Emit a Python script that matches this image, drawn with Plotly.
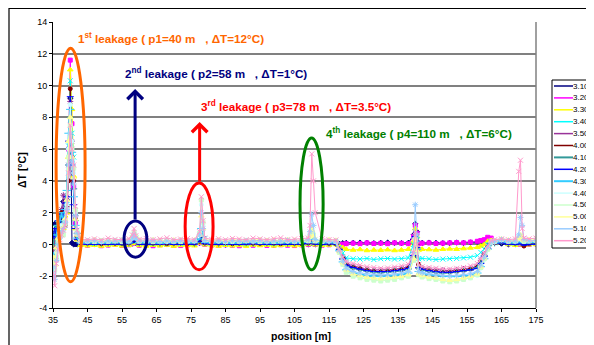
import plotly.graph_objects as go

# ---------------- data ----------------
pos_a = [35, 35.5, 36, 36.5, 37, 37.5, 38, 38.5, 39, 39.5, 40, 40.5, 41, 41.5, 42, 43]
pos_b = [45, 47, 49, 51, 53, 55, 57, 58, 58.5, 59, 60, 62, 64, 66, 68, 70, 72, 74, 76, 77.5,
         78, 78.5, 79, 81, 83, 85, 87, 89, 91, 93, 95, 97, 99, 101, 103, 105, 107, 109, 109.5,
         110, 110.5, 111, 113, 115, 117]
pos_c = [118, 119, 120, 122, 124, 126, 128, 130, 132, 134, 136, 138, 139.5, 140, 140.5, 141,
         142, 144, 146, 148, 150, 152, 154, 156, 158, 159, 160, 161, 162, 163]
pos_d = [165, 167, 169, 170, 170.5, 171, 171.5, 173, 175]
positions = pos_a + pos_b + pos_c + pos_d

series_names = ["3.10 PM", "3.20 PM", "3.30 PM", "3.40 PM", "3.50 PM", "4.00 PM", "4.10 PM",
                "4.20 PM", "4.30 PM", "4.40 PM", "4.50 PM", "5.00 PM", "5.10 PM", "5.20 PM"]

dt_310 = ([0.2, 1.3, 0.8, 1.0, 1.4, 1.2, 2.7, 2.2, 2.8, 4.0, 9.2, 0.1, 0.0, 0.0, 0.0, 0.0] +
          [0.0, 0.02, -0.02, 0.0, 0.03, 0.0, 0.02, 0.05, 0.15, 0.1, 0.0, -0.02, 0.0, 0.03, 0.0, 0.02, -0.03, 0.0, 0.02, 0.1, 0.3, 0.2, 0.05, 0.0, 0.02, -0.02, 0.0, 0.03, 0.05, 0.0, 0.02, 0.0, -0.02, 0.04, 0.0, 0.02, 0.0, 0.0, 0.05, 0.1, 0.05, 0.0, 0.02, 0.0, 0.05] +
          [0.05, 0.08, 0.1, 0.1, 0.12, 0.1, 0.08, 0.1, 0.12, 0.1, 0.08, 0.1, 0.6, 1.3, 0.8, 0.1, 0.1, 0.12, 0.1, 0.08, 0.1, 0.12, 0.1, 0.12, 0.15, 0.2, 0.25, 0.35, 0.3, 0.15] +
          [0.05, 0.0, 0.02, 0.05, 0.1, 0.05, 0.0, 0.02, 0.0])
dt_320 = ([0.5, 0.3, -0.2, 0.6, 1.0, 0.8, 1.9, 1.5, 2.3, 6.0, 11.6, 7.6, 3.6, 1.3, 0.4, 0.0] +
          [-0.05, 0.0, -0.08, -0.04, 0.0, -0.06, -0.02, 0.05, 0.2, 0.1, -0.05, -0.03, -0.08, -0.02, 0.0, -0.05, -0.07, -0.03, 0.0, 0.1, 0.2, 0.15, 0.0, -0.04, -0.06, -0.02, -0.05, -0.08, -0.03, -0.05, 0.0, -0.06, -0.04, -0.02, -0.05, -0.07, -0.03, 0.0, 0.1, 0.3, 0.15, 0.0, -0.05, -0.02, 0.05] +
          [0.0, 0.02, 0.05, 0.08, 0.05, 0.1, 0.06, 0.08, 0.05, 0.1, 0.08, 0.05, 0.5, 1.2, 0.7, 0.05, 0.08, 0.1, 0.06, 0.08, 0.1, 0.12, 0.1, 0.15, 0.2, 0.25, 0.3, 0.45, 0.4, 0.2] +
          [0.2, 0.05, 0.0, 0.02, 0.05, 0.0, -0.03, 0.0, 0.05])
dt_330 = ([0.0, -0.5, 0.2, 0.4, 0.6, 1.2, 1.0, 1.8, 2.0, 5.5, 11.0, 8.5, 4.3, 1.0, 0.3, -0.05] +
          [-0.08, -0.05, -0.1, -0.06, -0.04, -0.09, -0.05, 0.05, 0.25, 0.1, -0.06, -0.1, -0.05, -0.08, -0.04, -0.1, -0.06, -0.05, -0.08, 0.1, 0.3, 0.2, -0.02, -0.07, -0.1, -0.05, -0.08, -0.06, -0.1, -0.04, -0.07, -0.05, -0.09, -0.06, -0.04, -0.08, -0.05, 0.0, 0.1, 0.3, 0.15, -0.02, -0.06, -0.04, 0.0] +
          [-0.1, -0.2, -0.3, -0.35, -0.32, -0.38, -0.35, -0.36, -0.33, -0.38, -0.35, -0.3, 0.2, 1.0, 0.5, -0.35, -0.3, -0.32, -0.35, -0.3, -0.28, -0.3, -0.26, -0.22, -0.18, -0.1, 0.0, 0.2, 0.25, 0.1] +
          [0.15, 0.0, -0.05, 0.05, 0.1, 0.0, -0.05, -0.02, 0.0])
dt_340 = ([-0.8, -1.2, 1.0, 1.3, 0.9, 1.6, 1.8, 1.2, 2.5, 6.2, 10.3, 7.0, 5.5, 2.0, 0.6, 0.1] +
          [0.1, 0.05, 0.12, 0.08, 0.1, 0.06, 0.1, 0.2, 0.4, 0.25, 0.08, 0.12, 0.06, 0.1, 0.08, 0.12, 0.05, 0.1, 0.08, 0.2, 0.4, 0.3, 0.1, 0.08, 0.12, 0.06, 0.1, 0.08, 0.05, 0.1, 0.12, 0.08, 0.06, 0.1, 0.08, 0.12, 0.1, 0.1, 0.2, 0.4, 0.25, 0.1, 0.08, 0.1, 0.1] +
          [-0.2, -0.55, -0.85, -0.9, -0.92, -0.88, -0.95, -0.9, -0.88, -0.92, -0.9, -0.85, 0.0, 0.8, 0.3, -0.9, -0.88, -0.9, -0.95, -0.92, -0.9, -0.88, -0.85, -0.8, -0.7, -0.5, -0.3, 0.0, 0.15, 0.1] +
          [0.2, 0.1, 0.08, 0.15, 0.25, 0.1, 0.08, 0.1, 0.12])
dt_350 = ([-0.5, 0.2, 0.6, 0.8, 1.3, 2.2, 3.1, 2.6, 3.0, 5.0, 9.0, 6.5, 4.0, 1.8, 0.5, 0.15] +
          [0.12, 0.15, 0.1, 0.14, 0.1, 0.16, 0.12, 0.25, 0.5, 0.3, 0.12, 0.1, 0.15, 0.12, 0.1, 0.14, 0.12, 0.15, 0.1, 0.25, 0.5, 0.35, 0.12, 0.15, 0.1, 0.12, 0.14, 0.1, 0.15, 0.12, 0.1, 0.14, 0.12, 0.1, 0.15, 0.12, 0.1, 0.15, 0.3, 0.5, 0.3, 0.12, 0.1, 0.14, 0.1] +
          [-0.3, -0.8, -1.2, -1.35, -1.45, -1.55, -1.6, -1.62, -1.6, -1.55, -1.5, -1.4, -0.5, 0.6, 0.0, -1.45, -1.5, -1.55, -1.6, -1.62, -1.65, -1.6, -1.55, -1.5, -1.35, -1.0, -0.6, -0.2, 0.1, 0.12] +
          [0.2, 0.15, 0.1, 0.2, 0.3, 0.12, 0.1, 0.14, 0.12])
dt_400 = ([-1.5, -0.8, 0.4, 1.0, 1.6, 2.0, 1.5, 1.2, 2.4, 4.0, 9.8, 5.5, 4.0, 1.6, 0.5, 0.1] +
          [0.08, 0.1, 0.05, 0.1, 0.08, 0.06, 0.1, 0.2, 0.45, 0.25, 0.1, 0.06, 0.08, 0.1, 0.05, 0.08, 0.1, 0.06, 0.08, 0.2, 0.6, 0.35, 0.1, 0.06, 0.08, 0.1, 0.05, 0.08, 0.1, 0.08, 0.06, 0.1, 0.08, 0.05, 0.1, 0.08, 0.06, 0.1, 0.25, 0.4, 0.25, 0.1, 0.08, 0.06, 0.05] +
          [-0.35, -0.9, -1.3, -1.45, -1.55, -1.62, -1.7, -1.72, -1.68, -1.65, -1.6, -1.5, -0.8, 0.3, -0.4, -1.25, -1.55, -1.65, -1.72, -1.75, -1.72, -1.68, -1.62, -1.55, -1.4, -1.1, -0.7, -0.2, 0.15, 0.1] +
          [0.3, 0.1, 0.08, 0.15, 0.2, 0.1, -0.1, 0.05, 0.1])
dt_410 = ([0.0, 0.6, 1.2, 0.8, 1.8, 1.0, 1.9, 2.0, 2.5, 5.0, 8.0, 6.0, 3.5, 1.5, 0.7, 0.1] +
          [0.1, 0.12, 0.08, 0.1, 0.14, 0.1, 0.08, 0.25, 0.5, 0.3, 0.1, 0.12, 0.1, 0.08, 0.12, 0.1, 0.14, 0.1, 0.08, 0.3, 0.7, 0.4, 0.12, 0.1, 0.08, 0.12, 0.1, 0.14, 0.1, 0.08, 0.12, 0.1, 0.1, 0.12, 0.08, 0.1, 0.12, 0.12, 0.3, 0.6, 0.3, 0.1, 0.12, 0.1, 0.08] +
          [-0.35, -0.95, -1.35, -1.5, -1.6, -1.68, -1.75, -1.78, -1.75, -1.7, -1.65, -1.55, -0.8, 0.4, -0.3, -1.5, -1.6, -1.7, -1.75, -1.8, -1.78, -1.72, -1.68, -1.6, -1.45, -1.15, -0.7, -0.25, 0.1, 0.1] +
          [0.2, 0.12, 0.1, 0.2, 0.3, 0.12, 0.1, 0.12, 0.1])
dt_420 = ([0.4, 1.0, 0.5, 1.5, 1.2, 1.9, 1.7, 2.6, 3.0, 6.5, 9.3, 5.0, 2.5, 1.0, 0.3, 0.05] +
          [0.02, 0.0, 0.04, 0.02, 0.0, 0.03, 0.05, 0.12, 0.3, 0.15, 0.02, 0.0, 0.04, 0.02, 0.05, 0.0, 0.02, 0.04, 0.02, 0.2, 0.8, 0.4, 0.05, 0.02, 0.0, 0.04, 0.02, 0.0, 0.03, 0.05, 0.02, 0.0, 0.04, 0.02, 0.0, 0.03, 0.02, 0.05, 0.2, 0.5, 0.2, 0.02, 0.0, 0.04, 0.02] +
          [-0.3, -0.9, -1.3, -1.45, -1.55, -1.65, -1.7, -1.72, -1.7, -1.65, -1.6, -1.5, -0.7, 0.5, -0.2, -1.45, -1.55, -1.65, -1.72, -1.75, -1.75, -1.7, -1.65, -1.6, -1.5, -1.2, -0.75, -0.25, 0.05, 0.05] +
          [0.1, 0.02, 0.0, 0.05, 0.1, 0.02, -0.05, 0.0, 0.02])
dt_430 = ([-0.5, -1.0, 0.6, 1.2, 1.5, 2.0, 1.3, 2.2, 3.4, 7.0, 8.5, 5.8, 3.0, 1.2, 0.4, 0.1] +
          [0.1, 0.14, 0.08, 0.12, 0.1, 0.15, 0.1, 0.3, 0.55, 0.3, 0.12, 0.1, 0.14, 0.08, 0.1, 0.12, 0.15, 0.1, 0.12, 0.35, 1.0, 0.5, 0.12, 0.1, 0.14, 0.1, 0.08, 0.12, 0.1, 0.15, 0.1, 0.12, 0.08, 0.1, 0.14, 0.1, 0.12, 0.15, 0.35, 0.6, 0.3, 0.12, 0.1, 0.14, 0.1] +
          [-0.4, -1.1, -1.6, -1.8, -1.9, -1.95, -2.0, -2.02, -1.98, -1.95, -1.9, -1.8, -0.9, 0.4, -0.3, -1.7, -1.8, -1.9, -1.95, -2.0, -2.02, -2.0, -1.98, -1.95, -1.8, -1.4, -0.9, -0.3, 0.1, 0.1] +
          [0.2, 0.12, 0.1, 0.2, 0.3, 0.15, 0.1, 0.12, 0.14])
dt_440 = ([-1.2, -1.8, -0.5, 0.3, 0.7, 1.2, 0.8, 1.5, 2.5, 6.0, 8.8, 6.5, 4.5, 2.0, 0.8, 0.2] +
          [0.2, 0.25, 0.18, 0.22, 0.28, 0.2, 0.24, 0.4, 0.7, 0.45, 0.22, 0.26, 0.2, 0.24, 0.18, 0.22, 0.26, 0.2, 0.24, 0.6, 2.5, 1.2, 0.3, 0.22, 0.2, 0.25, 0.18, 0.22, 0.26, 0.2, 0.24, 0.2, 0.22, 0.26, 0.2, 0.24, 0.2, 0.25, 0.5, 1.0, 0.6, 0.25, 0.22, 0.2, 0.24] +
          [-0.5, -1.2, -1.7, -1.95, -2.05, -2.15, -2.2, -2.25, -2.2, -2.15, -2.1, -2.0, -1.0, 0.3, -0.5, -1.9, -2.0, -2.1, -2.2, -2.25, -2.3, -2.25, -2.2, -2.1, -1.95, -1.5, -0.95, -0.3, 0.1, 0.15] +
          [0.3, 0.22, 0.2, 0.35, 0.5, 0.3, 0.2, 0.25, 0.3])
dt_450 = ([-1.0, -1.6, -0.8, 0.2, 0.5, 0.9, 0.6, 1.3, 2.2, 5.5, 7.5, 6.0, 4.8, 2.2, 0.8, 0.2] +
          [0.22, 0.18, 0.25, 0.2, 0.24, 0.18, 0.22, 0.45, 0.75, 0.5, 0.2, 0.24, 0.18, 0.22, 0.26, 0.2, 0.18, 0.24, 0.22, 0.7, 2.8, 1.4, 0.3, 0.2, 0.24, 0.18, 0.22, 0.2, 0.25, 0.22, 0.18, 0.24, 0.2, 0.22, 0.26, 0.2, 0.18, 0.22, 0.5, 1.1, 0.6, 0.22, 0.2, 0.24, 0.2] +
          [-0.5, -1.25, -1.75, -2.0, -2.1, -2.2, -2.25, -2.3, -2.25, -2.2, -2.1, -2.0, -1.0, 0.3, -0.5, -1.9, -2.05, -2.15, -2.2, -2.3, -2.35, -2.3, -2.2, -2.1, -1.9, -1.45, -0.9, -0.3, 0.15, 0.2] +
          [0.3, 0.2, 0.22, 0.4, 0.55, 0.3, 0.2, 0.22, 0.25])
dt_500 = ([-0.8, -1.3, -0.2, 0.4, 0.8, 1.0, 1.1, 1.6, 2.8, 6.5, 8.0, 5.5, 4.2, 1.6, 0.6, 0.25] +
          [0.25, 0.3, 0.22, 0.28, 0.24, 0.3, 0.26, 0.45, 0.7, 0.5, 0.28, 0.24, 0.3, 0.26, 0.22, 0.28, 0.3, 0.25, 0.28, 0.6, 1.8, 1.0, 0.3, 0.26, 0.28, 0.24, 0.3, 0.26, 0.22, 0.28, 0.3, 0.25, 0.28, 0.24, 0.3, 0.26, 0.28, 0.3, 0.5, 0.9, 0.5, 0.28, 0.25, 0.3, 0.26] +
          [-0.45, -1.15, -1.6, -1.85, -1.95, -2.05, -2.1, -2.15, -2.1, -2.05, -2.0, -1.9, -0.9, 0.4, -0.4, -1.85, -1.95, -2.05, -2.1, -2.2, -2.25, -2.2, -2.1, -2.0, -1.85, -1.4, -0.85, -0.25, 0.2, 0.25] +
          [0.35, 0.28, 0.25, 0.4, 0.6, 0.35, 0.25, 0.3, 0.28])
dt_510 = ([-1.4, -2.2, -1.0, 0.0, 0.4, 0.8, 1.0, 1.4, 2.2, 5.0, 7.0, 5.2, 3.8, 1.8, 0.7, 0.2] +
          [0.2, 0.24, 0.18, 0.22, 0.2, 0.26, 0.2, 0.4, 0.65, 0.4, 0.22, 0.2, 0.24, 0.18, 0.22, 0.2, 0.24, 0.2, 0.22, 0.6, 2.0, 1.0, 0.25, 0.2, 0.22, 0.18, 0.24, 0.2, 0.22, 0.2, 0.24, 0.18, 0.22, 0.2, 0.24, 0.2, 0.22, 0.3, 0.8, 1.9, 1.2, 0.3, 0.22, 0.2, 0.2] +
          [-0.4, -1.05, -1.5, -1.7, -1.8, -1.85, -1.9, -1.92, -1.9, -1.85, -1.8, -1.7, -0.5, 2.5, 0.6, -1.7, -1.8, -1.85, -1.9, -1.95, -1.98, -1.95, -1.9, -1.85, -1.7, -1.3, -0.8, -0.2, 0.15, 0.2] +
          [0.3, 0.22, 0.2, 0.6, 1.7, 1.2, 0.3, 0.22, 0.25])
dt_520 = ([-1.8, -2.6, -1.2, -0.3, 0.3, 0.6, 0.9, 1.2, 2.0, 4.5, 7.5, 6.0, 5.0, 2.4, 0.9, 0.3] +
          [0.3, 0.35, 0.28, 0.4, 0.32, 0.3, 0.36, 0.6, 1.0, 0.55, 0.32, 0.38, 0.3, 0.35, 0.42, 0.3, 0.34, 0.38, 0.3, 0.8, 3.0, 1.5, 0.4, 0.32, 0.36, 0.3, 0.38, 0.34, 0.3, 0.4, 0.35, 0.3, 0.36, 0.42, 0.3, 0.34, 0.38, 0.4, 1.2, 5.7, 4.0, 2.0, 0.35, 0.3, 0.28] +
          [-0.3, -0.8, -1.1, -1.2, -1.3, -1.4, -1.45, -1.5, -1.48, -1.42, -1.35, -1.25, -0.5, 0.8, 0.0, -1.3, -1.4, -1.45, -1.5, -1.55, -1.55, -1.5, -1.45, -1.35, -1.2, -0.9, -0.55, -0.1, 0.25, 0.3] +
          [0.35, 0.3, 0.35, 4.6, 5.3, 1.0, 0.4, 0.35, 0.4])

series_values = [dt_310, dt_320, dt_330, dt_340, dt_350, dt_400, dt_410,
                 dt_420, dt_430, dt_440, dt_450, dt_500, dt_510, dt_520]

x_ticks = [35, 45, 55, 65, 75, 85, 95, 105, 115, 125, 135, 145, 155, 165, 175]
y_ticks = [-4, -2, 0, 2, 4, 6, 8, 10, 12, 14]

# ---------------- styles ----------------
styles = [
    ("#000080", "diamond", 4, 1),
    ("#FF00FF", "square", 4, 1),
    ("#FFFF00", "triangle-up", 5, 1),
    ("#00FFFF", "x-thin-open", 5, 1),
    ("#993399", "asterisk-open", 5, 1),
    ("#800000", "circle", 4, 1),
    ("#339999", "cross-thin-open", 5, 1.5),
    ("#0000FF", "line-ew-open", 5, 1),
    ("#33CCFF", "line-ew-open", 6, 1.5),
    ("#CCFFFF", "circle", 4, 1),
    ("#CCFFCC", "square", 4, 1),
    ("#FFFF99", "triangle-up", 5, 1),
    ("#99CCFF", "asterisk-open", 5, 1),
    ("#FF99CC", "x-thin-open", 5, 1),
]

# page body has an 8px margin, so the figure is drawn 8px smaller and
# reference pixel positions are shifted by OFF.
OFF = 8
W, H = 586, 337
ML, MR, MT, MB = 45, 58, 14, 37
PW, PH = W - ML - MR, H - MT - MB


def px_x(p):
    return (p - OFF - ML) / PW


def px_y(p):
    return (H - MB - (p - OFF)) / PH


FONT = "Liberation Sans, Arial, sans-serif"

fig = go.Figure()

for name, vals, (col, sym, size, lw) in zip(series_names, series_values, styles):
    fig.add_trace(go.Scatter(
        x=positions, y=vals, name=name, mode="lines+markers",
        line=dict(color=col, width=lw),
        marker=dict(symbol=sym, size=size, color=col, line=dict(color=col, width=1)),
        showlegend=False,
    ))

# ---------------- manual compact legend ----------------
leg_x0, leg_top, leg_step = 554, 86, 11.9
shapes = []
annotations = []
for i, (name, (col, sym, size, lw)) in enumerate(zip(series_names, styles)):
    yy = leg_top + i * leg_step
    shapes.append(dict(type="line", xref="paper", yref="paper",
                       x0=px_x(leg_x0), x1=px_x(leg_x0 + 19), y0=px_y(yy), y1=px_y(yy),
                       line=dict(color=col, width=lw + 0.5)))
    fig.add_trace(go.Scatter(
        x=[leg_x0 + 9.5], y=[yy], xaxis="x2", yaxis="y2", mode="markers",
        marker=dict(symbol=sym, size=size, color=col, line=dict(color=col, width=1)),
        cliponaxis=False, showlegend=False, hoverinfo="skip"))
    annotations.append(dict(xref="paper", yref="paper", x=px_x(572), y=px_y(yy),
                            text=name, showarrow=False, xanchor="left", yanchor="middle",
                            borderpad=0,
                            font=dict(family=FONT, size=8, color="#000000")))

shapes.append(dict(type="rect", xref="paper", yref="paper",
                   x0=px_x(552), x1=px_x(640), y0=px_y(248), y1=px_y(80),
                   line=dict(color="#000000", width=1), layer="below"))
# outer chart border
shapes.append(dict(type="rect", xref="paper", yref="paper",
                   x0=px_x(9), x1=px_x(700), y0=px_y(400), y1=px_y(8.5),
                   line=dict(color="#000000", width=1.2)))
# plot-area right border
shapes.append(dict(type="line", xref="paper", yref="paper", x0=1, x1=1, y0=0, y1=1,
                   line=dict(color="#808080", width=1.5)))

# ---------------- leakage ellipses ----------------
ellipses = [
    ("#FF6600", 35.9, 44.3, -2.35, 12.35),
    ("#000080", 55.6, 62.2, -0.8, 1.48),
    ("#FF0000", 73.3, 81.4, -1.6, 3.87),
    ("#008000", 106.6, 113.3, -1.6, 6.7),
]
for col, x0, x1, y0, y1 in ellipses:
    shapes.append(dict(type="circle", xref="x", yref="y", x0=x0, x1=x1, y0=y0, y1=y1,
                       line=dict(color=col, width=3)))

# arrows
for col, xa, ytail, yhead in [("#000080", 58.8, 1.48, 9.78), ("#FF0000", 77.5, 3.87, 7.7)]:
    annotations.append(dict(x=xa, y=yhead, ax=xa, ay=ytail, xref="x", yref="y",
                            axref="x", ayref="y", text="", showarrow=True,
                            arrowhead=4, arrowsize=1.0, arrowwidth=3, arrowcolor=col))

sp = "\u00a0\u00a0 "
labels = [
    ("1<sup>st</sup> leakage ( p1=40 m" + sp + ", ΔT=12°C)", "#FF6600", 69.3, 13.0),
    ("2<sup>nd</sup> leakage ( p2=58 m" + sp + ", ΔT=1°C)", "#000080", 82.1, 10.8),
    ("3<sup>rd</sup> leakage ( p3=78 m" + sp + ", ΔT=3.5°C)", "#FF0000", 105.3, 8.7),
    ("4<sup>th</sup> leakage ( p4=110 m" + sp + ", ΔT=6°C)", "#008000", 141.1, 7.0),
]
for txt, col, xx, yy in labels:
    annotations.append(dict(x=xx, y=yy, xref="x", yref="y", text="<b>" + txt + "</b>",
                            showarrow=False, xanchor="center", yanchor="middle",
                            font=dict(family=FONT, size=11.7, color=col)))

# axis titles
annotations.append(dict(xref="paper", yref="paper", x=px_x(301), y=px_y(336),
                        text="<b>position [m]</b>", showarrow=False,
                        xanchor="center", yanchor="middle",
                        font=dict(family=FONT, size=10.5, color="#000000")))
annotations.append(dict(xref="paper", yref="paper", x=px_x(22), y=px_y(170),
                        text="<b>ΔT [°C]</b>", showarrow=False, textangle=-90,
                        xanchor="center", yanchor="middle",
                        font=dict(family=FONT, size=10.5, color="#000000")))

fig.update_layout(
    width=W, height=H,
    margin=dict(l=ML, r=MR, t=MT, b=MB, autoexpand=False),
    paper_bgcolor="#FFFFFF", plot_bgcolor="#FFFFFF",
    showlegend=False,
    font=dict(family=FONT, size=9, color="#000000"),
    xaxis=dict(range=[35, 175], tickmode="array", tickvals=x_ticks,
               ticktext=[str(v) for v in x_ticks],
               showgrid=False, zeroline=False, showline=True, linecolor="#000000",
               linewidth=1, ticks="outside", ticklen=3, tickcolor="#000000",
               tickfont=dict(size=9)),
    yaxis=dict(range=[-4, 14], tickmode="array", tickvals=y_ticks,
               ticktext=[str(v) for v in y_ticks],
               showgrid=True, gridcolor="#808080", gridwidth=1.5, zeroline=False,
               showline=True, linecolor="#000000", linewidth=1, ticks="outside",
               ticklen=3, tickcolor="#000000", tickfont=dict(size=9)),
    xaxis2=dict(overlaying="x", range=[ML + OFF, W - MR + OFF], visible=False),
    yaxis2=dict(overlaying="y", range=[H - MB + OFF, MT + OFF], visible=False),
    shapes=shapes,
    annotations=annotations,
)

fig.write_html("out.html")
